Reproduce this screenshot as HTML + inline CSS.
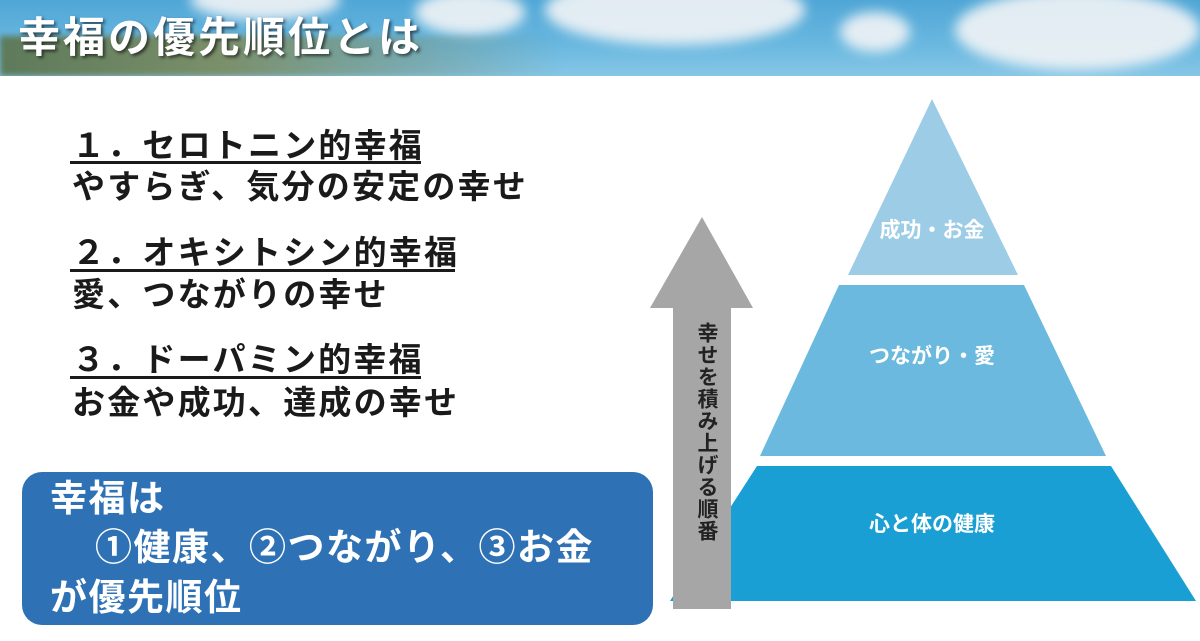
<!DOCTYPE html>
<html><head><meta charset="utf-8">
<style>
html,body{margin:0;padding:0;}
body{width:1200px;height:641px;position:relative;overflow:hidden;background:#fff;font-family:"Liberation Sans","Noto Sans CJK JP",sans-serif;}
.hdr{position:absolute;left:0;top:0;width:1200px;height:76px;overflow:hidden;background:linear-gradient(180deg,#4fa6d6 0%,#6ab8e0 60%,#86c6e6 100%);}
.cl{position:absolute;background:#f2f4f6;border-radius:50%;filter:blur(6px);opacity:.9;}
.tree{position:absolute;left:0;bottom:0;width:560px;height:40px;background:linear-gradient(90deg,#5d7a5a 0%,#7b8f6a 40%,rgba(120,150,130,0.5) 75%,rgba(120,160,190,0) 100%);filter:blur(3px);}
.title{position:absolute;left:18px;top:10px;font-size:42px;font-weight:bold;color:#fff;letter-spacing:3px;text-shadow:2px 2px 3px rgba(0,0,0,.6);line-height:56px;}
.t{position:absolute;left:72px;font-size:33px;font-weight:bold;color:#1a1a1a;white-space:nowrap;line-height:40px;letter-spacing:2.2px;}
.u{position:absolute;left:70px;height:3px;background:#1a1a1a;}
.box{position:absolute;left:22px;top:472px;width:631px;height:153px;background:#2e72b5;border-radius:20px;}
.bt{position:absolute;font-size:37px;font-weight:bold;color:#fff;white-space:nowrap;line-height:44px;letter-spacing:1.5px;}
.pl{position:absolute;font-size:21px;font-weight:bold;color:#fff;white-space:nowrap;transform:translate(-50%,-50%);}
.vt{position:absolute;left:691px;top:322px;writing-mode:vertical-rl;font-size:21px;font-weight:bold;color:#222;letter-spacing:1px;}
</style></head><body>
<div class="hdr">
<div class="cl" style="left:190px;top:-20px;width:150px;height:40px;"></div>
<div class="cl" style="left:415px;top:-10px;width:110px;height:45px;"></div>
<div class="cl" style="left:545px;top:-25px;width:260px;height:70px;"></div>
<div class="cl" style="left:840px;top:12px;width:70px;height:40px;"></div>
<div class="cl" style="left:955px;top:-10px;width:245px;height:80px;"></div>
<div class="tree"></div>
<div class="title">幸福の優先順位とは</div>
</div>

<div class="t" style="top:126px;">１．セロトニン的幸福</div>
<div class="u" style="top:161px;width:351px;"></div>
<div class="t" style="top:167px;">やすらぎ、気分の安定の幸せ</div>
<div class="t" style="top:233px;">２．オキシトシン的幸福</div>
<div class="u" style="top:269px;width:385px;"></div>
<div class="t" style="top:275px;">愛、つながりの幸せ</div>
<div class="t" style="top:340px;">３．ドーパミン的幸福</div>
<div class="u" style="top:376px;width:351px;"></div>
<div class="t" style="top:383px;">お金や成功、達成の幸せ</div>

<div class="box"></div>
<div class="bt" style="left:50px;top:477px;">幸福は</div>
<div class="bt" style="left:95px;top:526px;">①健康、②つながり、③お金</div>
<div class="bt" style="left:50px;top:576px;">が優先順位</div>

<svg style="position:absolute;left:0;top:0" width="1200" height="641">
<polygon points="932,99 1018,275 848,275" fill="#9dcde6"/>
<polygon points="839,285 1024,285 1106,456 760,456" fill="#6bb9de"/>
<polygon points="757,466 1111,466 1196,601 670,601" fill="#1a9fd4"/>
<polygon points="702,217 753,308 731,308 731,609 673,609 673,308 650,308" fill="#a6a6a6"/>
</svg>
<div class="vt">幸せを積み上げる順番</div>
<div class="pl" style="left:932px;top:229px;">成功・お金</div>
<div class="pl" style="left:932px;top:355px;">つながり・愛</div>
<div class="pl" style="left:932px;top:523px;">心と体の健康</div>
</body></html>
